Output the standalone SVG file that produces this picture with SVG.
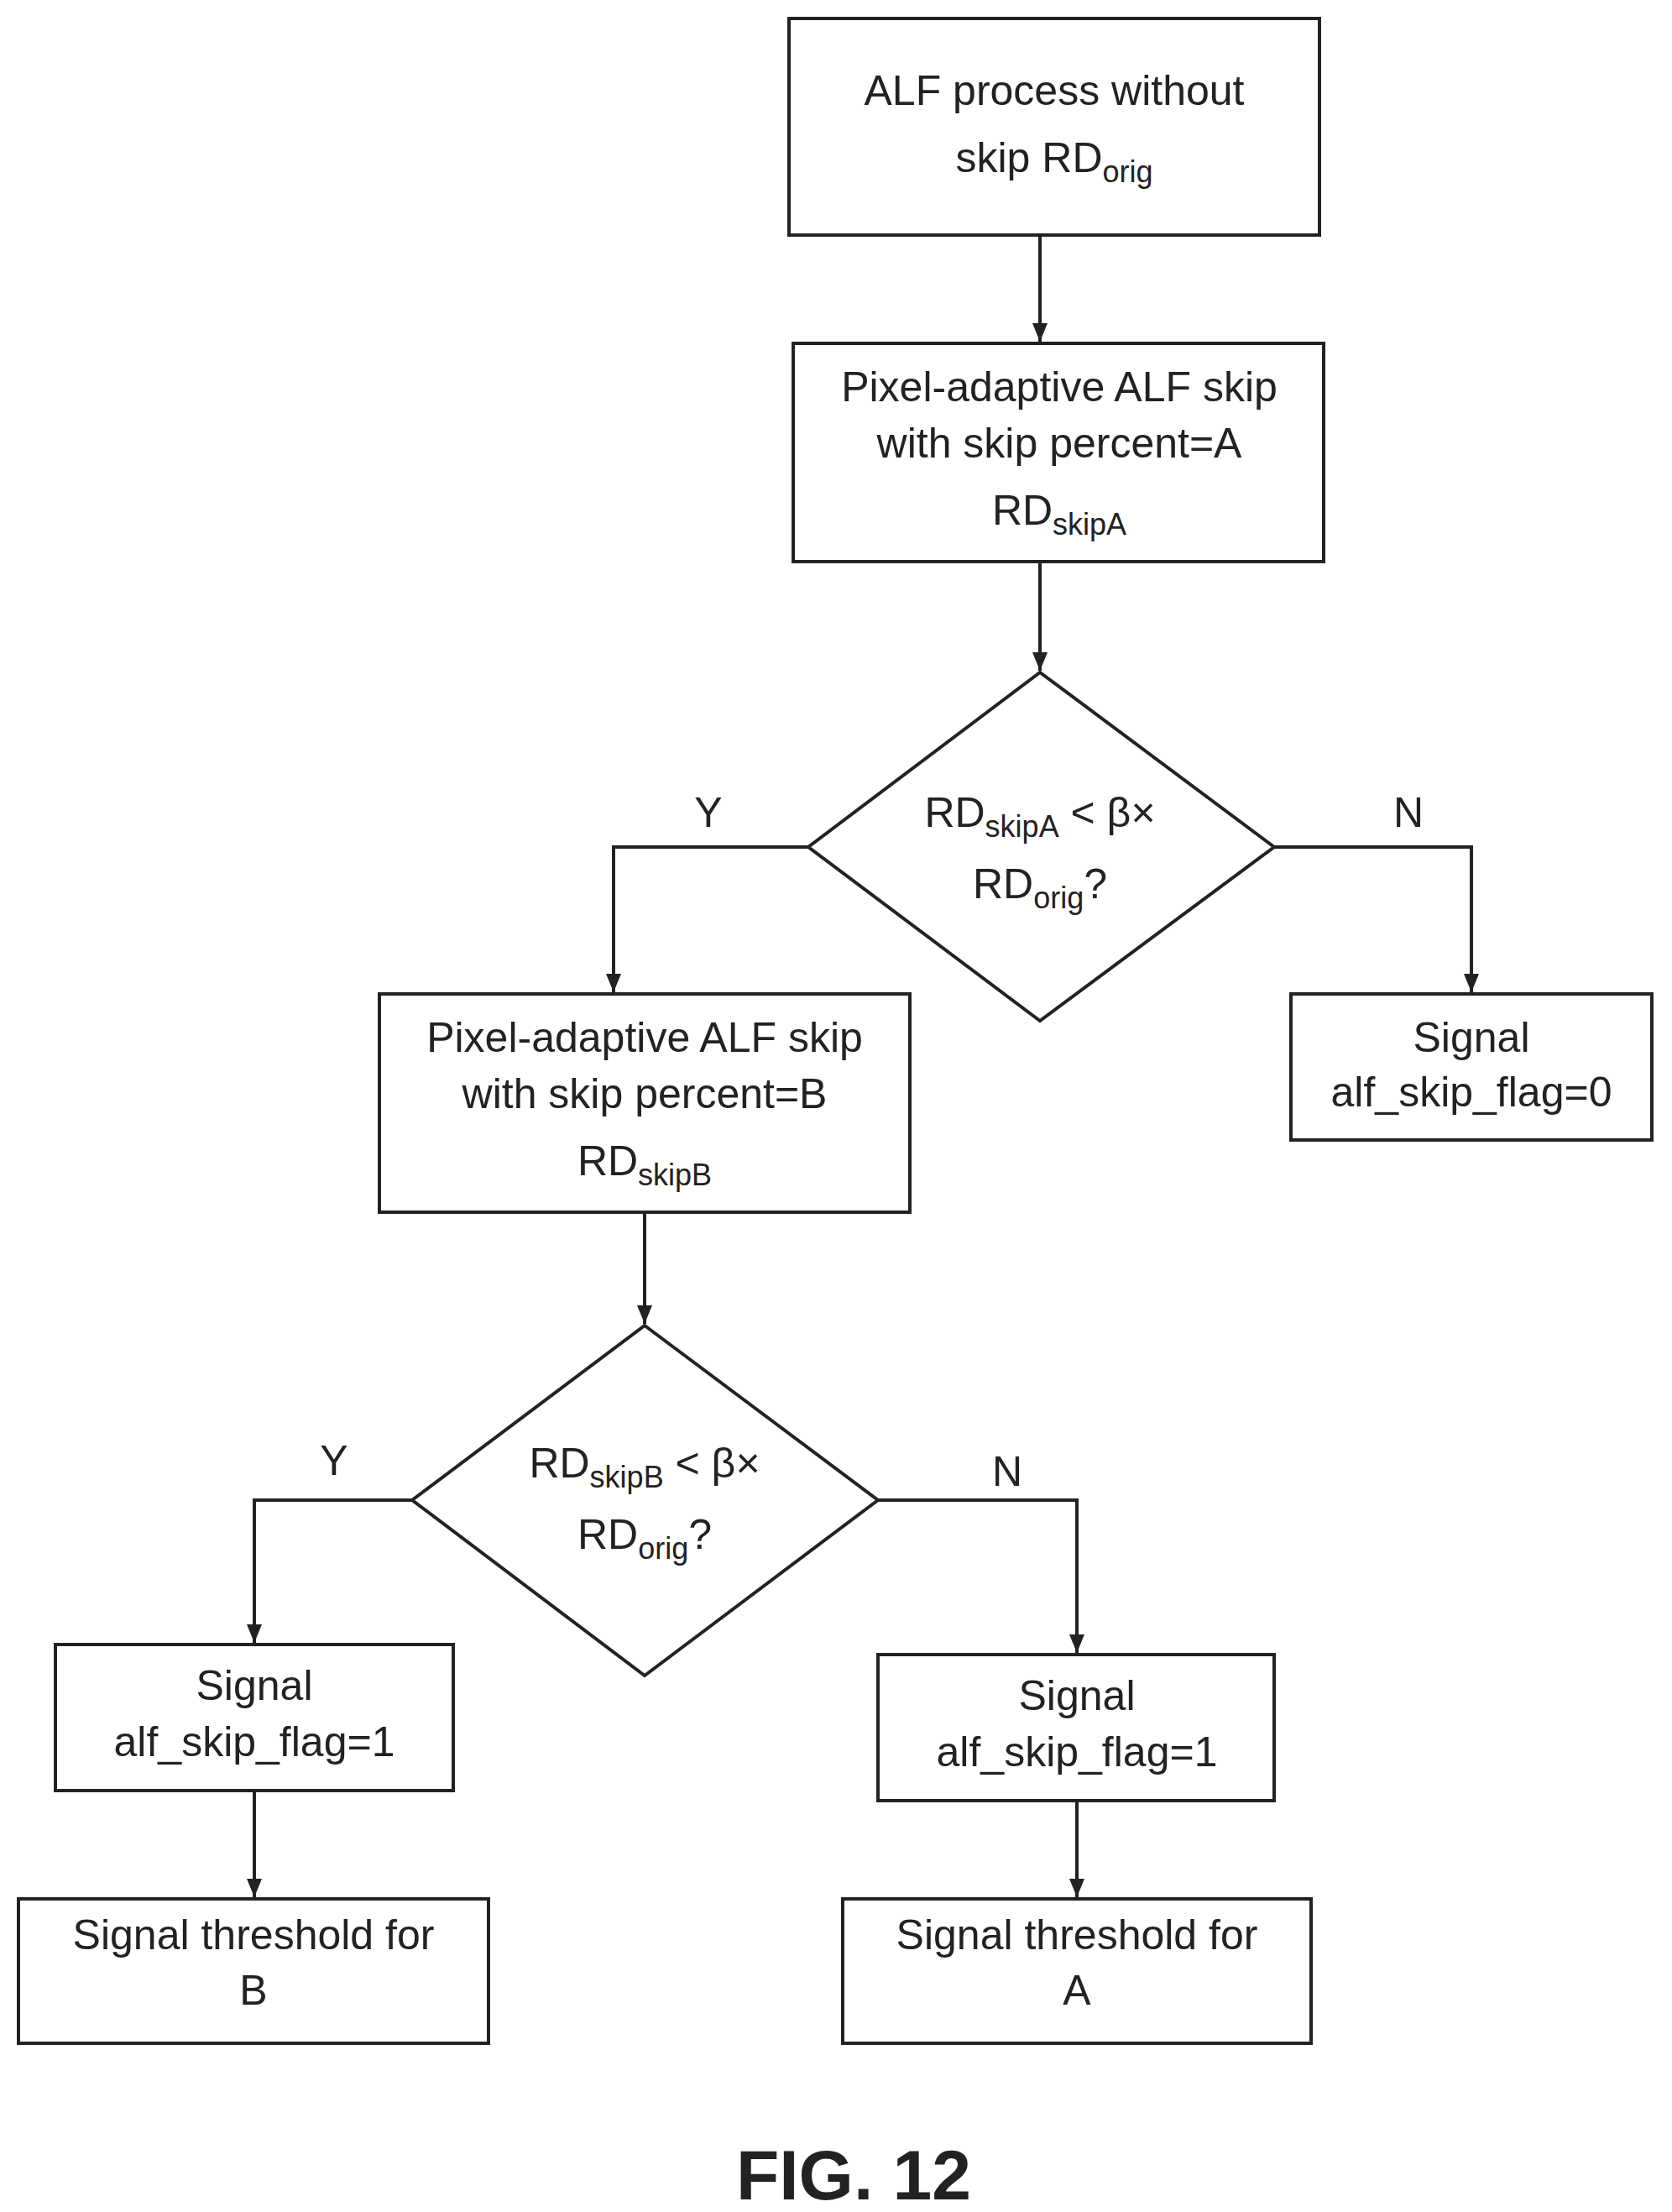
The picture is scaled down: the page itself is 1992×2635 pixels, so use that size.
<svg xmlns="http://www.w3.org/2000/svg" width="1992" height="2635" viewBox="0 0 1992 2635">
<style>
.b{fill:#fff;stroke:#222;stroke-width:4}
.t{font-family:"Liberation Sans",Arial,sans-serif;font-size:50px;fill:#222;text-anchor:middle}
.s{font-size:36px}
.c{fill:none;stroke:#222;stroke-width:4}
</style>
<defs><marker id="a" markerWidth="12" markerHeight="12" refX="10" refY="6" orient="auto" markerUnits="userSpaceOnUse" viewBox="0 0 12 12"><path d="M0,0 L12,6 L0,12 z" fill="#222"/></marker>
<marker id="ah" markerWidth="24" markerHeight="24" refX="22" refY="12" orient="auto" markerUnits="userSpaceOnUse"><path d="M0,3 L22,12 L0,21 z" fill="#222"/></marker></defs>
<rect width="1992" height="2635" fill="#fff"/>
<g id="connectors">
<path class="c" d="M1239,280 V407" marker-end="url(#ah)"/>
<path class="c" d="M1239,669 V799" marker-end="url(#ah)"/>
<path class="c" d="M963,1009 H731 V1182" marker-end="url(#ah)" stroke="#777"/>
<path class="c" d="M1518,1009 H1753 V1182" marker-end="url(#ah)"/>
<path class="c" d="M768,1444 V1577" marker-end="url(#ah)"/>
<path class="c" d="M491,1787 H303 V1957" marker-end="url(#ah)"/>
<path class="c" d="M1046,1787 H1283 V1969" marker-end="url(#ah)"/>
<path class="c" d="M303,2133 V2260" marker-end="url(#ah)"/>
<path class="c" d="M1283,2145 V2260" marker-end="url(#ah)"/>
<text class="t" x="844" y="985">Y</text>
<text class="t" x="1678" y="985">N</text>
<text class="t" x="398" y="1757">Y</text>
<text class="t" x="1200" y="1770">N</text>
</g>
<g id="n1"><rect class="b" x="940" y="22" width="632" height="258"/>
<text class="t" x="1256" y="125">ALF process without</text>
<text class="t" x="1256" y="205">skip RD<tspan class="s" dy="12">orig</tspan></text></g>
<g id="n2"><rect class="b" x="945" y="409" width="632" height="260"/>
<text class="t" x="1262" y="478">Pixel-adaptive ALF skip</text>
<text class="t" x="1262" y="545">with skip percent=A</text>
<text class="t" x="1262" y="625">RD<tspan class="s" dy="12">skipA</tspan></text></g>
<g id="d1"><polygon class="b" points="1239,801 1518,1009 1239,1216 963,1009"/>
<text class="t" x="1239" y="985">RD<tspan class="s" dy="12">skipA</tspan><tspan dy="-12"> &lt; β×</tspan></text>
<text class="t" x="1239" y="1070">RD<tspan class="s" dy="12">orig</tspan><tspan dy="-12">?</tspan></text></g>
<g id="n3"><rect class="b" x="452" y="1184" width="632" height="260"/>
<text class="t" x="768" y="1253">Pixel-adaptive ALF skip</text>
<text class="t" x="768" y="1320">with skip percent=B</text>
<text class="t" x="768" y="1400">RD<tspan class="s" dy="12">skipB</tspan></text></g>
<g id="n4"><rect class="b" x="1538" y="1184" width="430" height="174"/>
<text class="t" x="1753" y="1253">Signal</text>
<text class="t" x="1753" y="1318">alf_skip_flag=0</text></g>
<g id="d2"><polygon class="b" points="768,1579 1046,1787 768,1996 491,1787"/>
<text class="t" x="768" y="1760">RD<tspan class="s" dy="12">skipB</tspan><tspan dy="-12"> &lt; β×</tspan></text>
<text class="t" x="768" y="1845">RD<tspan class="s" dy="12">orig</tspan><tspan dy="-12">?</tspan></text></g>
<g id="n5"><rect class="b" x="66" y="1959" width="474" height="174"/>
<text class="t" x="303" y="2025">Signal</text>
<text class="t" x="303" y="2092">alf_skip_flag=1</text></g>
<g id="n6"><rect class="b" x="1046" y="1971" width="472" height="174"/>
<text class="t" x="1283" y="2037">Signal</text>
<text class="t" x="1283" y="2104">alf_skip_flag=1</text></g>
<g id="n7"><rect class="b" x="22" y="2262" width="560" height="172"/>
<text class="t" x="302" y="2322">Signal threshold for</text>
<text class="t" x="302" y="2388">B</text></g>
<g id="n8"><rect class="b" x="1004" y="2262" width="558" height="172"/>
<text class="t" x="1283" y="2322">Signal threshold for</text>
<text class="t" x="1283" y="2388">A</text></g>
<text class="t" x="1017" y="2620" style="font-size:84px;font-weight:bold">FIG. 12</text>
</svg>
